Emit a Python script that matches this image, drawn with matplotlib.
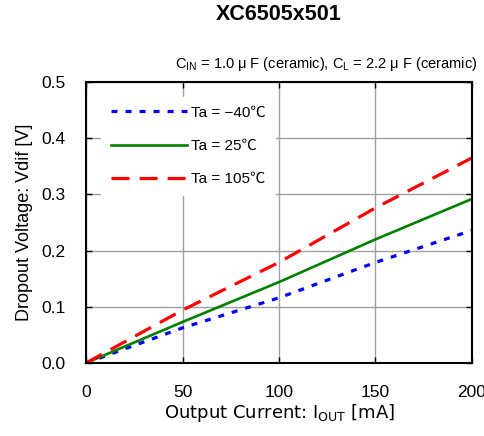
import matplotlib
matplotlib.use("Agg")
import matplotlib.pyplot as plt

plt.rcParams['lines.scale_dashes'] = False

iout = [0, 50, 100, 150, 200]
v_m40 = [0.0, 0.0625, 0.116, 0.179, 0.236]
v_25 = [0.0, 0.073, 0.144, 0.220, 0.292]
v_105 = [0.0, 0.094, 0.179, 0.276, 0.365]
labels = ["Ta = −40℃", "Ta = 25℃", "Ta = 105℃"]
xticks = [0, 50, 100, 150, 200]
yticks = [0.0, 0.1, 0.2, 0.3, 0.4, 0.5]

jp = ['Liberation Sans', 'Noto Sans CJK JP']
tick_font = 'Liberation Sans'

fig = plt.figure(figsize=(4.85, 4.36), dpi=100)
ax = fig.add_axes([86/485, 1-363/436, (472-86)/485, (363-82)/436])

ax.plot(iout, v_m40, color='#0000ff', lw=2.3, dashes=(4.3, 5.8), label=labels[0], dash_capstyle='butt')
ax.plot(iout, v_25, color='#008000', lw=1.9, label=labels[1])
ax.plot(iout, v_105, color='#ff0000', lw=2.3, dashes=(13, 7.2), label=labels[2], dash_capstyle='butt')

ax.set_xlim(0, 200)
ax.set_ylim(0, 0.5)
ax.set_xticks(xticks)
ax.set_yticks(yticks)
ax.set_xticklabels([str(v) for v in xticks], fontfamily=tick_font, fontsize=12.5)
ax.set_yticklabels([f"{v:.1f}" for v in yticks], fontfamily=tick_font, fontsize=12.5)
ax.tick_params(axis='both', direction='in', length=4, width=1, top=True, right=True)
ax.tick_params(axis='y', pad=15)
ax.tick_params(axis='x', pad=15.5)
ax.grid(True, color='#a0a0a0', lw=1.0)
ax.set_axisbelow(True)
for s in ax.spines.values():
    s.set_linewidth(1.5)
    s.set_color('black')

ax.set_xlabel("Output Current: I$_{\\mathregular{OUT}}$ [mA]", fontfamily=['DejaVu Sans'], fontsize=13, labelpad=2)
ax.set_ylabel("Dropout Voltage: Vdif [V]", fontfamily=jp, fontsize=13, labelpad=6)

leg = ax.legend(loc='upper left', bbox_to_anchor=(0.02, 0.975), frameon=True, fancybox=False,
                edgecolor='white', facecolor='white', framealpha=1.0,
                prop={'family': jp, 'size': 11}, handlelength=5.0, handletextpad=0.3,
                labelspacing=1.25, borderpad=0.6)

fig.text(279/485, 1-15/436, "XC6505x501", ha='center', va='center', fontfamily='Liberation Sans',
         fontweight='bold', fontsize=15.5)
fig.text(477/485, 1-64/436, "C$_{\\mathregular{IN}}$ = 1.0 μ F (ceramic), C$_{\\mathregular{L}}$ = 2.2 μ F (ceramic)",
         ha='right', va='center', fontfamily=jp, fontsize=10.5)

fig.savefig("out.png", dpi=100)
